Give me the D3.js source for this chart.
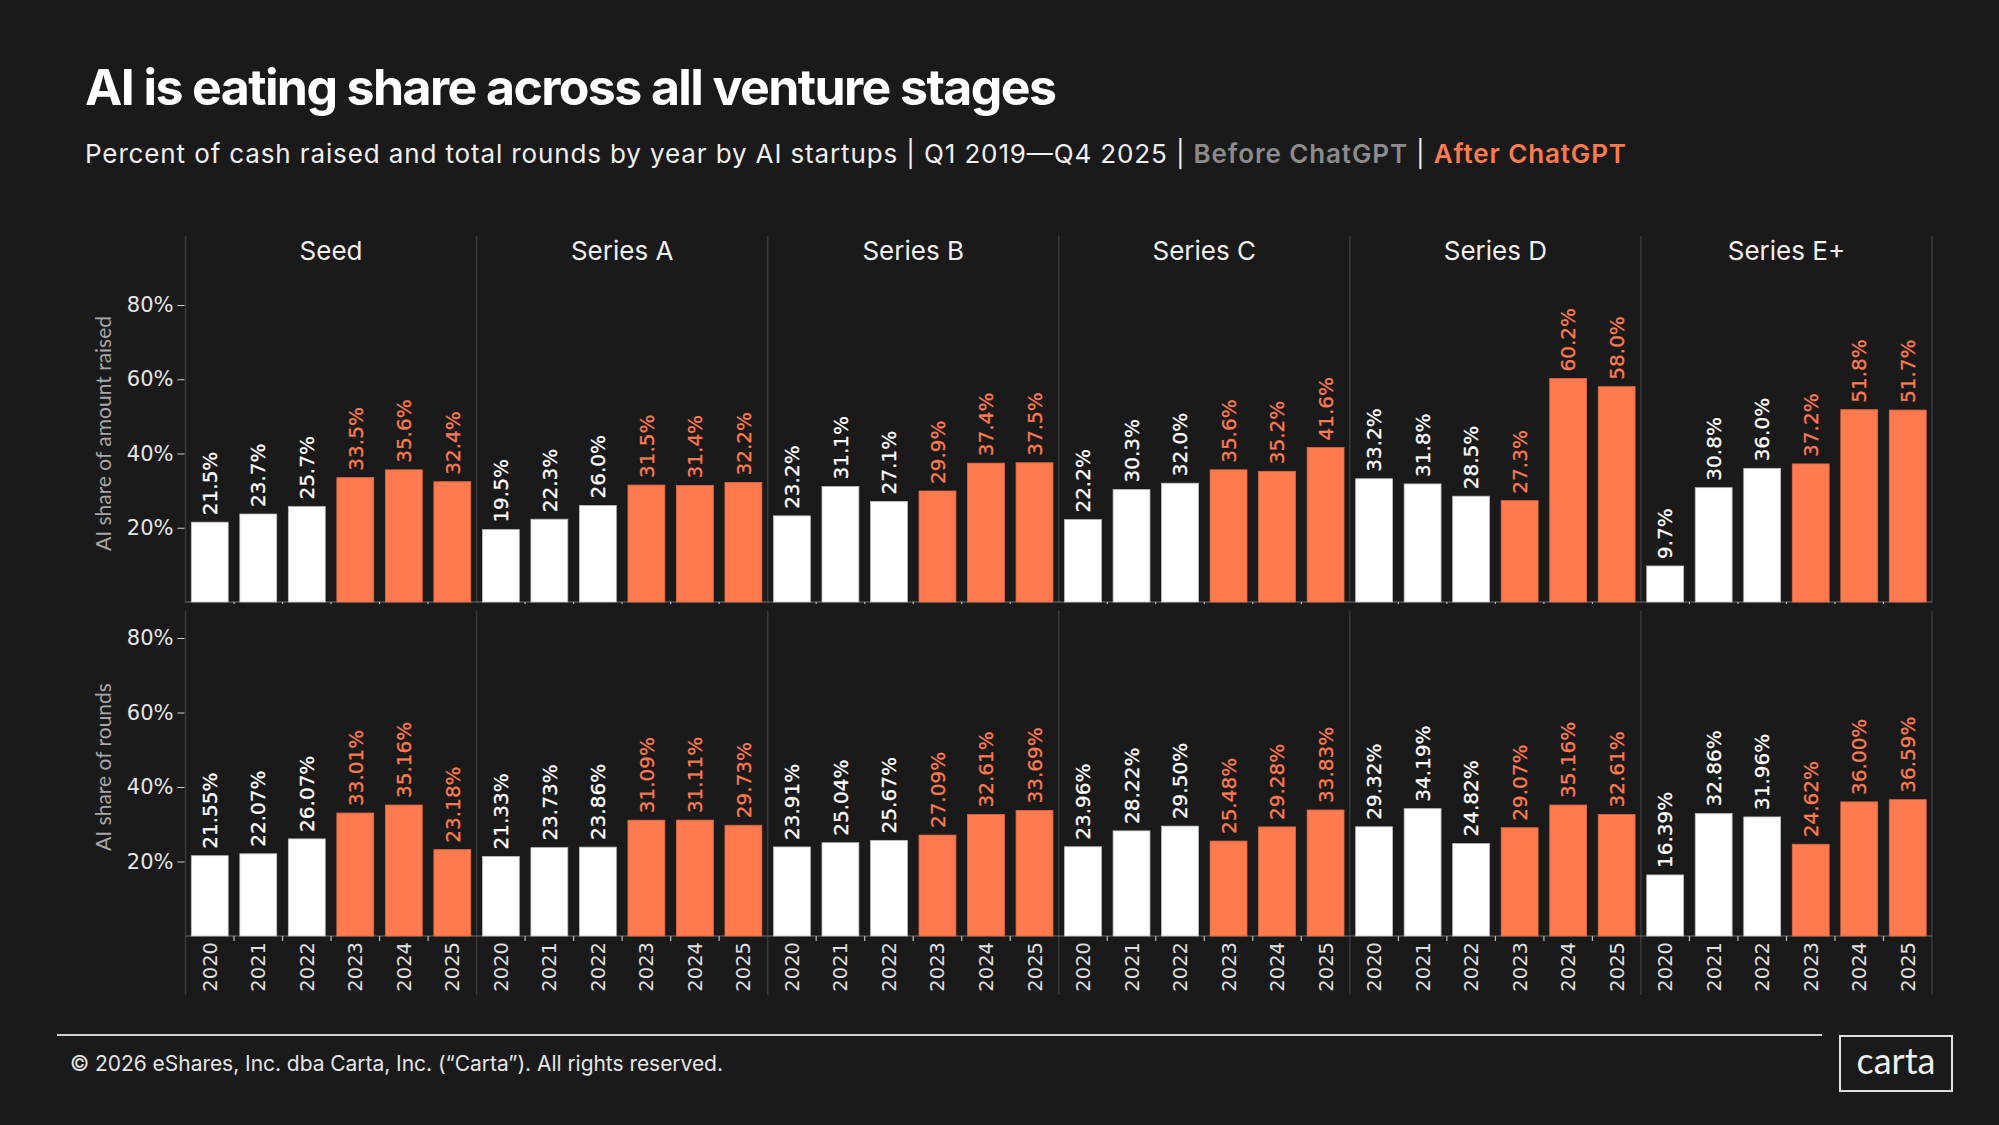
<!DOCTYPE html>
<html>
<head>
<meta charset="utf-8">
<script src="https://cdn.jsdelivr.net/npm/d3@7"></script>
<style>
  html, body { margin: 0; padding: 0; background: #1a1a1a; }
  svg { display: block; }
</style>
</head>
<body>
<svg id="chart" width="1999" height="1125"></svg>
<script>
// ---- data ----
const stages = ['Seed', 'Series A', 'Series B', 'Series C', 'Series D', 'Series E+'];
const years = ['2020', '2021', '2022', '2023', '2024', '2025'];
const afterYears = ['2023', '2024', '2025'];   // after ChatGPT

// AI share of amount raised (%), one row per stage
const amountRaised = [
    [21.5, 23.7, 25.7, 33.5, 35.6, 32.4],
    [19.5, 22.3, 26.0, 31.5, 31.4, 32.2],
    [23.2, 31.1, 27.1, 29.9, 37.4, 37.5],
    [22.2, 30.3, 32.0, 35.6, 35.2, 41.6],
    [33.2, 31.8, 28.5, 27.3, 60.2, 58.0],
    [9.7, 30.8, 36.0, 37.2, 51.8, 51.7]
];
// AI share of rounds (%)
const roundsShare = [
    [21.55, 22.07, 26.07, 33.01, 35.16, 23.18],
    [21.33, 23.73, 23.86, 31.09, 31.11, 29.73],
    [23.91, 25.04, 25.67, 27.09, 32.61, 33.69],
    [23.96, 28.22, 29.50, 25.48, 29.28, 33.83],
    [29.32, 34.19, 24.82, 29.07, 35.16, 32.61],
    [16.39, 32.86, 31.96, 24.62, 36.00, 36.59]
];
const yTicks = [20, 40, 60, 80];

const WHITE = '#ffffff';
const ORANGE = '#ff7b4f';
const GRID = '#3a3a3a';
const FONT = 'Lato, "Noto Sans", sans-serif';
const NUM_FONT = '"DejaVu Sans", Lato, sans-serif';
const HEAD_FONT = 'Inter, Lato, sans-serif';

const svg = d3.select('#chart');
svg.append('rect').attr('width', 1999).attr('height', 1125).attr('fill', '#1a1a1a');

// squeeze or stretch the letter spacing so a line spans a set width
function fit(sel, w) {
    sel.attr('textLength', w).attr('lengthAdjust', 'spacing');
    return sel;
}

// ---- header ----
fit(svg.append('text')
    .attr('x', 85).attr('y', 105)
    .attr('fill', '#fff')
    .style('font-family', HEAD_FONT)
    .style('font-weight', 700)
    .style('font-size', '50px')
    .text('AI is eating share across all venture stages'), 972);

let sub = svg.append('text')
    .attr('x', 85).attr('y', 163)
    .style('font-family', HEAD_FONT)
    .style('font-size', '26px');
sub.append('tspan').attr('fill', '#f0f0f0')
    .text('Percent of cash raised and total rounds by year by AI startups  |  Q1 2019\u2014Q4 2025 | ');
sub.append('tspan').attr('fill', '#8c8c8c').style('font-weight', 600).text('Before ChatGPT');
sub.append('tspan').attr('fill', '#f0f0f0').text(' | ');
sub.append('tspan').attr('fill', ORANGE).style('font-weight', 600).text('After ChatGPT');
fit(sub, 1541);

// ---- layout ----
const plotLeft = 185.5, plotRight = 1932;
const facetW = (plotRight - plotLeft) / stages.length;
const facetX = d3.scaleBand().domain(stages).range([plotLeft, plotRight]).paddingInner(0).paddingOuter(0);

const panels = [
    {data: amountRaised, title: 'AI share of amount raised', y: d3.scaleLinear().domain([0, 80]).range([602, 305]), top: 236, bottom: 603, years: false},
    {data: roundsShare, title: 'AI share of rounds', y: d3.scaleLinear().domain([0, 80]).range([936, 638]), top: 611, bottom: 995, years: true}
];

// facet headers
svg.append('g').selectAll('text')
    .data(stages)
    .join('text')
    .attr('x', d => facetX(d) + facetW / 2)
    .attr('y', 260)
    .attr('text-anchor', 'middle')
    .attr('fill', '#f0f0f0')
    .style('font-family', HEAD_FONT)
    .style('font-size', '26px')
    .text(d => d);

panels.forEach(function (p) {
    let g = svg.append('g');
    let y = p.y;

    // facet dividers
    g.selectAll('line.div')
        .data(d3.range(stages.length + 1))
        .join('line')
        .attr('class', 'div')
        .attr('x1', i => plotLeft + i * facetW).attr('x2', i => plotLeft + i * facetW)
        .attr('y1', p.top).attr('y2', p.bottom)
        .attr('stroke', GRID).attr('stroke-width', 1.5);

    // y axis
    let yAxis = d3.axisLeft(y)
        .tickValues(yTicks)
        .tickFormat(d => d + '%')
        .tickSize(7)
        .tickPadding(4);
    let ya = g.append('g').attr('transform', 'translate(' + (plotLeft - 1) + ',0)').call(yAxis);
    ya.select('.domain').remove();
    ya.selectAll('line').attr('stroke', '#cfcfcf');
    ya.selectAll('text')
        .attr('fill', '#e6e6e6')
        .style('font-family', NUM_FONT)
        .style('font-size', '21px');

    // y title
    g.append('text')
        .attr('transform', 'translate(104,' + ((y(0) + y(80)) / 2 - 20) + ') rotate(-90)')
        .attr('text-anchor', 'middle')
        .attr('dy', '0.35em')
        .attr('fill', '#a8a8a8')
        .style('font-family', FONT)
        .style('font-size', '21px')
        .text(p.title);

    // baseline
    g.append('line')
        .attr('x1', plotLeft).attr('x2', plotRight)
        .attr('y1', y(0)).attr('y2', y(0))
        .attr('stroke', '#6e6e6e').attr('stroke-width', 1.2);

    stages.forEach(function (stage, si) {
        let x = d3.scaleBand()
            .domain(years)
            .range([facetX(stage), facetX(stage) + facetW])
            .paddingInner(0.24)
            .paddingOuter(0.12);
        let rows = years.map((yr, i) => ({year: yr, value: p.data[si][i], after: afterYears.includes(yr)}));
        let fg = g.append('g');

        fg.selectAll('rect')
            .data(rows)
            .join('rect')
            .attr('x', d => x(d.year))
            .attr('y', d => y(d.value))
            .attr('width', x.bandwidth())
            .attr('height', d => y(0) - y(d.value))
            .attr('fill', d => d.after ? ORANGE : WHITE)
            .attr('stroke', d => d.after ? '#e06a42' : '#bdbdbd')
            .attr('stroke-width', 0.8);

        fg.selectAll('text.val')
            .data(rows)
            .join('text')
            .attr('class', 'val')
            .attr('transform', d => 'translate(' + (x(d.year) + x.bandwidth() / 2) + ',' + (y(d.value) - 7) + ') rotate(-90)')
            .attr('dy', '0.36em')
            .attr('fill', d => d.after ? ORANGE : WHITE)
            .attr('stroke', d => d.after ? ORANGE : WHITE)
            .attr('stroke-width', 0.3)
            .style('font-family', NUM_FONT)
            .style('font-size', '20px')
            .text(d => d.value.toFixed(p.years ? 2 : 1) + '%');

        // little ticks between bars on the baseline
        fg.selectAll('line.tk')
            .data(years.slice(1))
            .join('line')
            .attr('class', 'tk')
            .attr('x1', d => x(d) - x.step() * x.paddingInner() / 2)
            .attr('x2', d => x(d) - x.step() * x.paddingInner() / 2)
            .attr('y1', y(0)).attr('y2', y(0) + (p.years ? 5 : 2))
            .attr('stroke', '#bdbdbd').attr('stroke-width', 1.2);

        if (p.years) {
            let xa = fg.append('g')
                .attr('transform', 'translate(0,' + y(0) + ')')
                .call(d3.axisBottom(x).tickSize(0));
            xa.select('.domain').remove();
            xa.selectAll('text')
                .attr('transform', 'rotate(-90)')
                .attr('x', -6).attr('y', 0)
                .attr('dy', '0.36em')
                .style('text-anchor', 'end')
                .attr('fill', '#e0e0e0')
                .style('font-family', NUM_FONT)
                .style('font-size', '19.5px');
        }
    });
});

// ---- footer ----
svg.append('line')
    .attr('x1', 57).attr('x2', 1822)
    .attr('y1', 1035).attr('y2', 1035)
    .attr('stroke', '#cfcfcf').attr('stroke-width', 2);

fit(svg.append('text')
    .attr('x', 70).attr('y', 1071)
    .attr('fill', '#e6e6e6')
    .style('font-family', HEAD_FONT)
    .style('font-size', '21px')
    .text('\u00a9 2026 eShares, Inc. dba Carta, Inc. (\u201cCarta\u201d). All rights reserved.'), 653);

svg.append('rect')
    .attr('x', 1840).attr('y', 1036)
    .attr('width', 112).attr('height', 55)
    .attr('fill', 'none')
    .attr('stroke', '#e0e0e0').attr('stroke-width', 2);
svg.append('text')
    .attr('x', 1896).attr('y', 1074)
    .attr('text-anchor', 'middle')
    .attr('fill', '#f0f0f0')
    .style('font-family', FONT)
    .style('font-size', '36px')
    .text('carta');
</script>
</body>
</html>
